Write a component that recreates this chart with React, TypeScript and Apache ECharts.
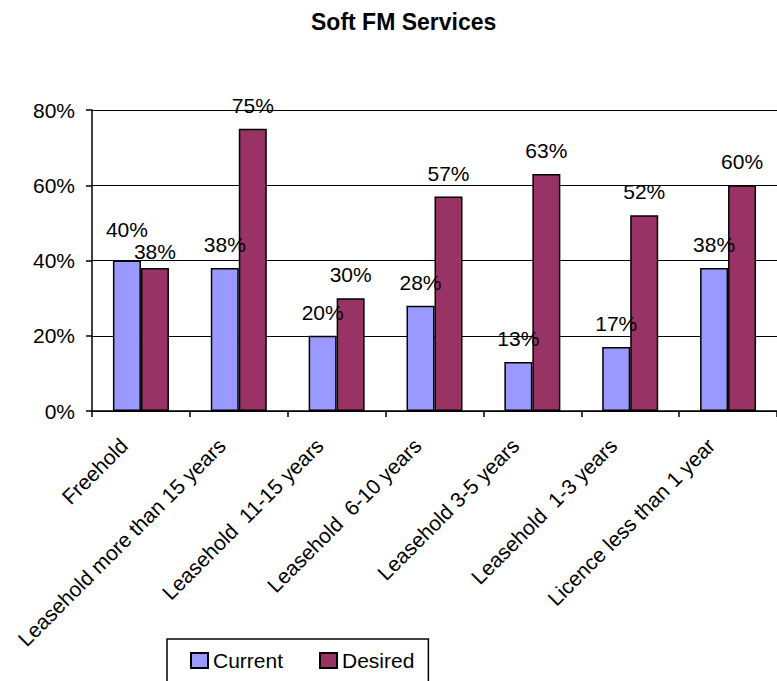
import React, { useEffect, useRef } from "react";
import * as echarts from "echarts";

const categories: string[] = [
  "Freehold",
  "Leasehold more than 15 years",
  "Leasehold  11-15 years",
  "Leasehold  6-10 years",
  "Leasehold 3-5 years",
  "Leasehold  1-3 years",
  "Licence less than 1 year",
];
const currentValues: number[] = [40, 38, 20, 28, 13, 17, 38];
const desiredValues: number[] = [38, 75, 30, 57, 63, 52, 60];
const yTicks = { min: 0, max: 80, interval: 20 };

const FONT = "'Liberation Sans', Arial, sans-serif";

export default function App() {
  const ref = useRef<HTMLDivElement>(null);
  useEffect(() => {
    if (!ref.current) return;
    const chart = echarts.init(ref.current, undefined, { renderer: "svg" });
    const labelBase = {
      show: true,
      position: "top" as const,
      distance: 13,
      color: "#000",
      fontSize: 21,
      fontFamily: FONT,
      formatter: "{c}%",
    };
    const mk = (vals: number[], firstOffset: number[]) =>
      vals.map((v, i) =>
        i === 0 ? { value: v, label: { offset: firstOffset } } : { value: v }
      );
    chart.setOption({
      animation: false,
      backgroundColor: "#fff",
      textStyle: { fontFamily: FONT },
      title: {
        text: "Soft FM Services",
        left: 311,
        top: 10,
        padding: 0,
        textStyle: { fontSize: 23, fontWeight: "bold", color: "#000", fontFamily: FONT },
      },
      grid: { left: 92, top: 110, right: -6, bottom: 270, containLabel: false },
      legend: {
        left: 167,
        top: 639,
        padding: [11, 14, 13, 23],
        itemWidth: 17,
        itemHeight: 15,
        itemGap: 36,
        borderColor: "#000",
        borderWidth: 1.5,
        icon: "rect",
        textStyle: { fontSize: 21, color: "#000", fontFamily: FONT },
        data: ["Current", "Desired"],
      },
      xAxis: {
        type: "category",
        data: categories,
        boundaryGap: true,
        axisLine: { lineStyle: { color: "#000", width: 1.5 } },
        axisTick: { show: true, length: 6, alignWithLabel: false, lineStyle: { color: "#000", width: 1.5 } },
        axisLabel: {
          rotate: 45,
          interval: 0,
          margin: 14,
          padding: [0, 24, 0, 0],
          fontSize: 21,
          color: "#000",
          fontFamily: FONT,
        },
      },
      yAxis: {
        type: "value",
        min: yTicks.min,
        max: yTicks.max,
        interval: yTicks.interval,
        axisLine: { show: true, lineStyle: { color: "#000", width: 1.5 } },
        axisTick: { show: true, length: 6, lineStyle: { color: "#000", width: 1.5 } },
        axisLabel: {
          formatter: "{value}%",
          margin: 17,
          fontSize: 21,
          color: "#000",
          fontFamily: FONT,
        },
        splitLine: { show: true, lineStyle: { color: "#000", width: 1.2 } },
      },
      series: [
        {
          name: "Current",
          type: "bar",
          data: mk(currentValues, [0, -8]),
          barWidth: 28,
          barGap: "0%",
          itemStyle: { color: "#9999FF", borderColor: "#000", borderWidth: 1.5 },
          label: labelBase,
        },
        {
          name: "Desired",
          type: "bar",
          data: mk(desiredValues, [0, 7]),
          barWidth: 28,
          barGap: "0%",
          itemStyle: { color: "#993366", borderColor: "#000", borderWidth: 1.5 },
          label: labelBase,
        },
      ],
    });
    return () => chart.dispose();
  }, []);
  return (
    <div
      ref={ref}
      style={{ position: "fixed", left: 0, top: 0, width: 777, height: 681 }}
    />
  );
}
